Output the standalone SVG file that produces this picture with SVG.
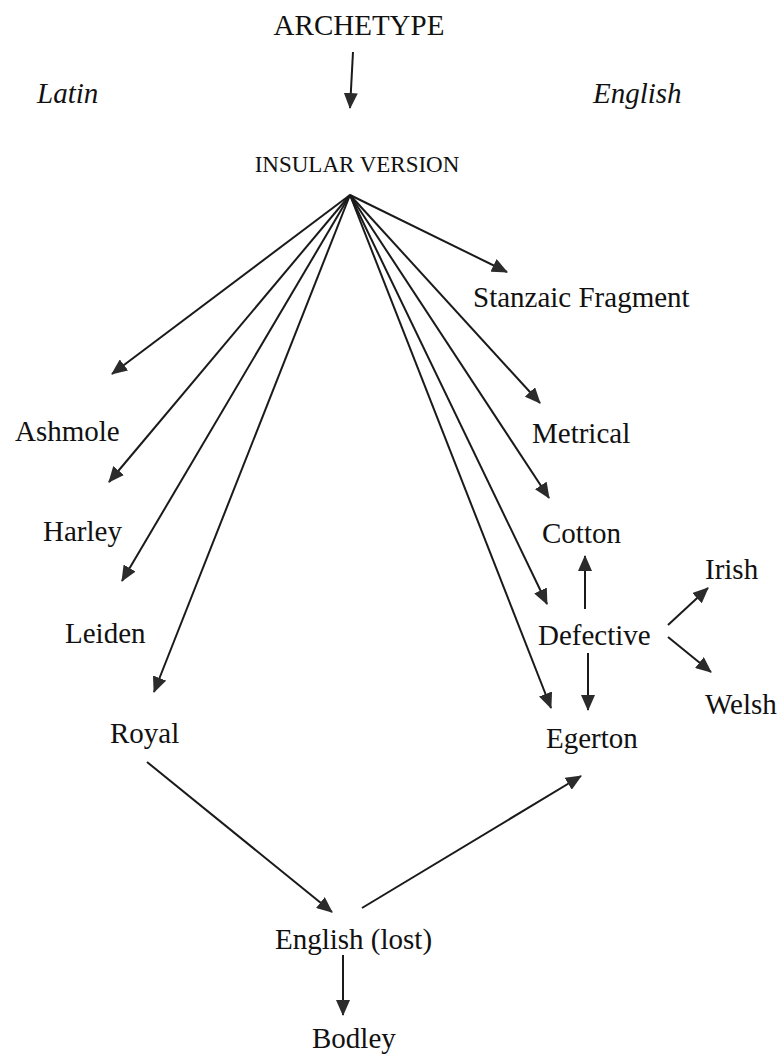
<svg xmlns="http://www.w3.org/2000/svg" width="781" height="1056" viewBox="0 0 781 1056">
<style>
  .lbl { font-family: "Liberation Serif", "Times New Roman", serif; font-size: 29px; fill: #111; }
  .it { font-style: italic; }
  .sc { font-size: 23px; }
  .conn line { stroke: #1a1a1a; stroke-width: 2; fill: none; marker-end: url(#ah); }
</style>
<defs>
  <marker id="ah" markerUnits="userSpaceOnUse" markerWidth="16" markerHeight="14" refX="15" refY="7" orient="auto">
    <path d="M0,0 L16,7 L0,14 z" fill="#2b2b2b"/>
  </marker>
</defs>
<rect width="781" height="1056" fill="#fff"/>
<g id="connectors" class="conn">
  <line x1="353" y1="52" x2="350" y2="108"/>
  <line x1="350" y1="195" x2="112" y2="374"/>
  <line x1="350" y1="195" x2="109" y2="482"/>
  <line x1="350" y1="195" x2="122" y2="581"/>
  <line x1="350" y1="195" x2="154" y2="692"/>
  <line x1="350" y1="195" x2="507" y2="272"/>
  <line x1="350" y1="195" x2="540" y2="403"/>
  <line x1="350" y1="195" x2="549" y2="498"/>
  <line x1="350" y1="195" x2="547" y2="604"/>
  <line x1="350" y1="195" x2="551" y2="708"/>
  <line x1="585" y1="609" x2="585" y2="556"/>
  <line x1="588" y1="653" x2="588" y2="710"/>
  <line x1="668" y1="625" x2="708" y2="588"/>
  <line x1="668" y1="637" x2="711" y2="672"/>
  <line x1="147" y1="762" x2="332" y2="912"/>
  <line x1="362" y1="908" x2="581" y2="776"/>
  <line x1="343" y1="955" x2="343" y2="1015"/>
</g>
<g id="archetype"><text class="lbl" x="359" y="35" text-anchor="middle">ARCHETYPE</text></g>
<g id="latin"><text class="lbl it" x="37" y="103">Latin</text></g>
<g id="english-heading"><text class="lbl it" x="593" y="103">English</text></g>
<g id="insular"><text class="lbl sc" x="357" y="172" text-anchor="middle">INSULAR VERSION</text></g>
<g id="stanzaic"><text class="lbl" x="473" y="307">Stanzaic Fragment</text></g>
<g id="ashmole"><text class="lbl" x="15" y="441">Ashmole</text></g>
<g id="metrical"><text class="lbl" x="532" y="443">Metrical</text></g>
<g id="harley"><text class="lbl" x="43" y="541">Harley</text></g>
<g id="cotton"><text class="lbl" x="542" y="543">Cotton</text></g>
<g id="leiden"><text class="lbl" x="65" y="643">Leiden</text></g>
<g id="defective"><text class="lbl" x="538" y="645">Defective</text></g>
<g id="irish"><text class="lbl" x="705" y="579">Irish</text></g>
<g id="welsh"><text class="lbl" x="705" y="714">Welsh</text></g>
<g id="royal"><text class="lbl" x="110" y="743">Royal</text></g>
<g id="egerton"><text class="lbl" x="546" y="748">Egerton</text></g>
<g id="english-lost"><text class="lbl" x="275" y="949">English (lost)</text></g>
<g id="bodley"><text class="lbl" x="312" y="1048">Bodley</text></g>
</svg>
